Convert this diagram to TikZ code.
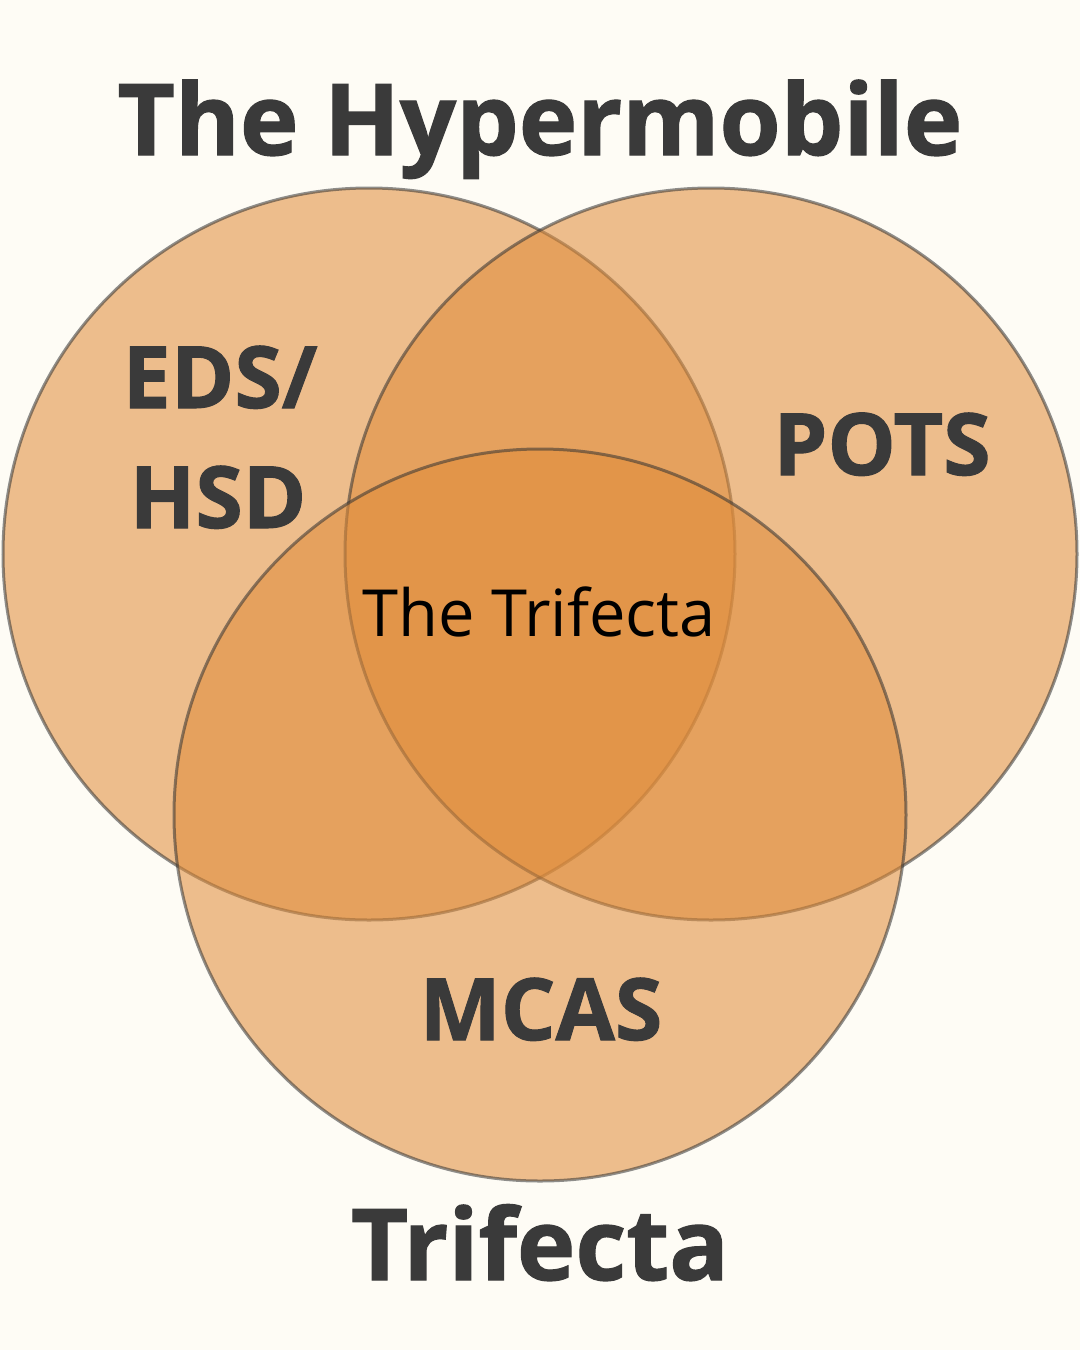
\documentclass[tikz,border=0pt]{standalone}
\usepackage{fontspec}
\setmainfont{Open Sans}[BoldFeatures={FakeBold=1.2}]
\definecolor{bgc}{HTML}{FEFCF5}
\definecolor{fillc}{RGB}{224,140,58}
\definecolor{txt}{HTML}{3A3A3A}
\begin{document}
\begin{tikzpicture}[x=1pt,y=-1pt,
  venn/.style={fill=fillc,fill opacity=0.56,draw=black!80,draw opacity=0.55,line width=3pt},
  big/.style={anchor=base,text=txt,font=\fontsize{99}{110}\selectfont\bfseries,inner sep=0pt},
  mid/.style={anchor=base,text=txt,font=\fontsize{86}{90}\selectfont\bfseries,inner sep=0pt,align=center},
  small/.style={anchor=base,text=black,font=\fontsize{65}{70}\selectfont,inner sep=0pt}]
\fill[bgc] (0,0) rectangle (1080,1350);
\useasboundingbox (0,0) rectangle (1080,1350);
\path[venn] (369,554) circle[radius=366pt];
\path[venn] (711,554) circle[radius=366pt];
\path[venn] (540,815) circle[radius=366pt];
\node[big] (title1) at (540,155) {The Hypermobile};
\node[big] (title2) at (540,1280) {Trifecta};
\node[mid] (eds) at (220,408) {EDS/};
\node[mid] (hsd) at (218,528) {HSD};
\node[mid] (pots) at (882,475) {POTS};
\node[mid] (mcas) at (541,1040) {MCAS};
\node[small] (tri) at (539,636) {The Trifecta};
\end{tikzpicture}
\end{document}
